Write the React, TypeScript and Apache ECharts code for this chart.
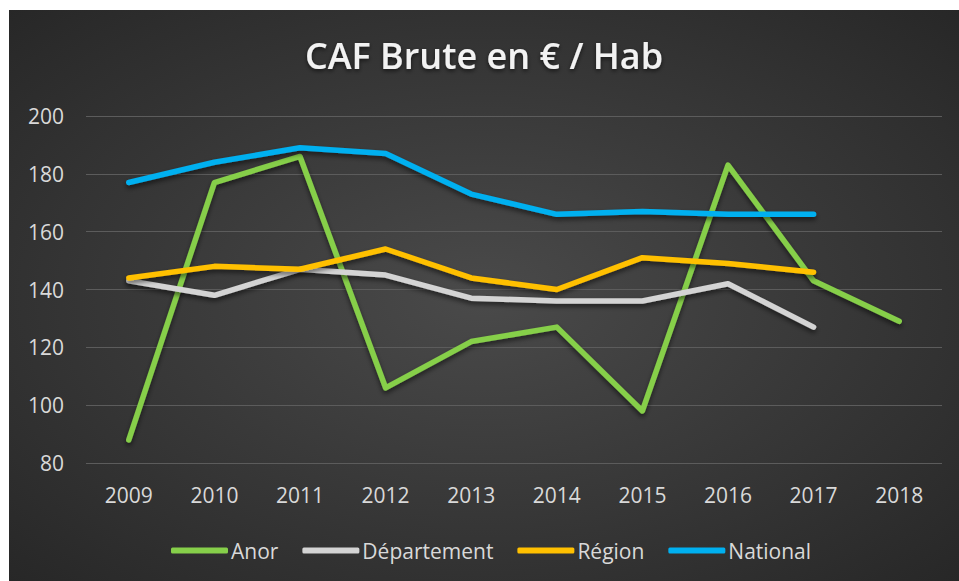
import React, { useEffect, useRef } from "react";
import * as echarts from "echarts";

const years = ["2009", "2010", "2011", "2012", "2013", "2014", "2015", "2016", "2017", "2018"];
const anor = [88, 177, 186, 106, 122, 127, 98, 183, 143, 129];
const departement = [143, 138, 147, 145, 137, 136, 136, 142, 127, null];
const region = [144, 148, 147, 154, 144, 140, 151, 149, 146, null];
const national = [177, 184, 189, 187, 173, 166, 167, 166, 166, null];
const yTicks = { min: 80, max: 200, interval: 20 };

const seriesDefs = [
  { name: "Anor", data: anor, color: "#86cf4a" },
  { name: "Département", data: departement, color: "#d4d4d4" },
  { name: "Région", data: region, color: "#ffc000" },
  { name: "National", data: national, color: "#00b0f0" },
];

const FONT = "'Open Sans', 'Noto Sans', sans-serif";

export default function App() {
  const ref = useRef<HTMLDivElement>(null);
  useEffect(() => {
    document.body.style.margin = "0";
    if (!ref.current) return;
    const chart = echarts.init(ref.current, undefined, { renderer: "svg" });
    chart.setOption({
      animation: false,
      backgroundColor: {
        type: "radial",
        x: 0.5,
        y: 0.5,
        r: 0.75,
        colorStops: [
          { offset: 0, color: "#4a4a4a" },
          { offset: 1, color: "#252525" },
        ],
      },
      title: {
        text: "CAF Brute en € / Hab",
        left: "center",
        top: 22,
        textStyle: {
          fontFamily: FONT,
          fontSize: 36,
          fontWeight: 600,
          color: "#f2f2f2",
          textShadowColor: "rgba(0,0,0,0.6)",
          textShadowBlur: 4,
          textShadowOffsetY: 2,
        },
      },
      grid: { left: 77, right: 17, top: 106, bottom: 118 },
      xAxis: {
        type: "category",
        data: years,
        boundaryGap: true,
        axisLine: { show: false },
        axisTick: { show: false },
        axisLabel: { color: "#d9d9d9", fontFamily: FONT, fontSize: 21, margin: 21 },
      },
      yAxis: {
        type: "value",
        min: yTicks.min,
        max: yTicks.max,
        interval: yTicks.interval,
        axisLine: { show: false },
        axisTick: { show: false },
        axisLabel: { color: "#d9d9d9", fontFamily: FONT, fontSize: 21, margin: 22 },
        splitLine: { lineStyle: { color: "#5c5c5c", width: 1 } },
      },
      legend: {
        left: 157,
        top: 525,
        icon: "roundRect",
        itemWidth: 57,
        itemHeight: 6,
        itemGap: 24,
        textStyle: { color: "#d9d9d9", fontFamily: FONT, fontSize: 21, padding: [0, 0, 0, -2] },
        data: seriesDefs.map((s) => s.name),
      },
      series: seriesDefs.map((s) => ({
        name: s.name,
        type: "line",
        data: s.data,
        symbol: "none",
        color: s.color,
        lineStyle: {
          width: 5.5,
          color: s.color,
          cap: "round",
          join: "round",
          shadowColor: "rgba(0,0,0,0.55)",
          shadowBlur: 5,
          shadowOffsetY: 3,
        },
      })),
    });
    return () => chart.dispose();
  }, []);
  return (
    <div style={{ position: "relative", width: 959, height: 581, background: "#fff", overflow: "hidden" }}>
      <div ref={ref} style={{ position: "absolute", left: 9, top: 10, width: 950, height: 571 }} />
    </div>
  );
}
